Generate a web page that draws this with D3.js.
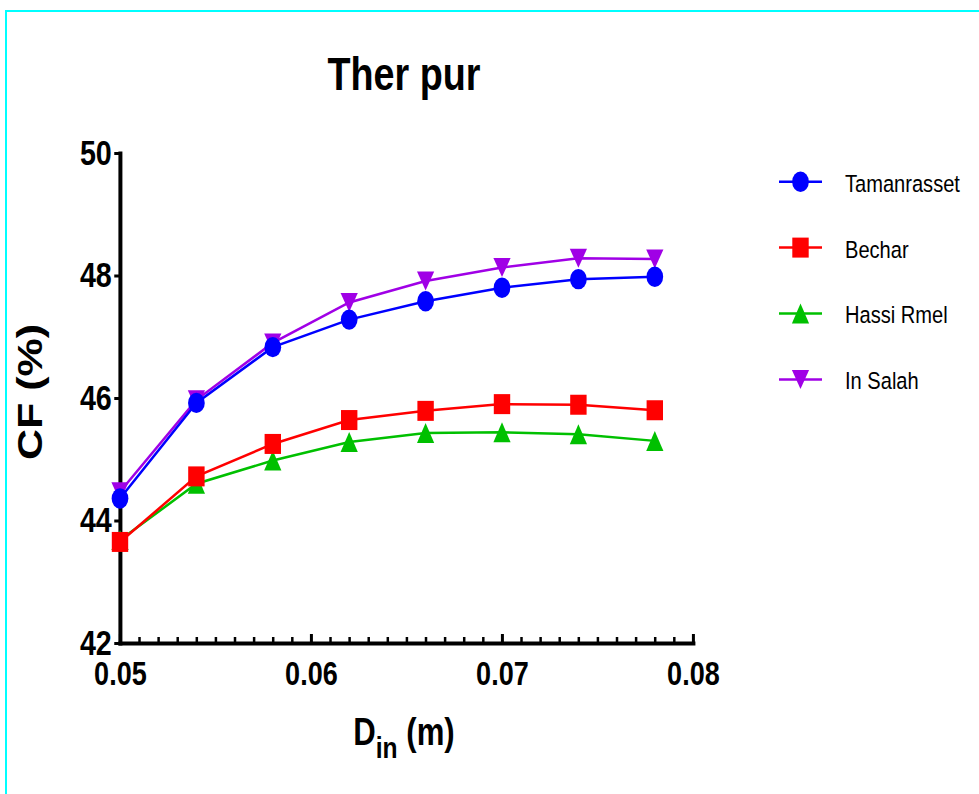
<!DOCTYPE html>
<html><head><meta charset="utf-8">
<script src="https://cdn.jsdelivr.net/npm/d3@7/dist/d3.min.js"></script>
<style>
body{margin:0;background:#fff}
svg{display:block}
text{font-family:"Liberation Sans",Arial,Helvetica,sans-serif}
</style>
</head><body>
<svg id="chart" width="979" height="794"></svg>
<script>
// ---- data ----
const xValues = [0.05, 0.054, 0.058, 0.062, 0.066, 0.07, 0.074, 0.078];
const tamanrasset = [44.36, 45.92, 46.83, 47.28, 47.58, 47.80, 47.94, 47.98];
const bechar      = [43.65, 44.72, 45.25, 45.64, 45.79, 45.90, 45.89, 45.80];
const hassiRmel   = [43.68, 44.60, 44.98, 45.28, 45.43, 45.44, 45.41, 45.30];
const inSalah     = [44.47, 45.97, 46.90, 47.56, 47.91, 48.13, 48.28, 48.27];
const seriesNames = ["Tamanrasset", "Bechar", "Hassi Rmel", "In Salah"];
const xTicks = [0.05, 0.06, 0.07, 0.08];
const yTicks = [42, 44, 46, 48, 50];
const titleText = "Ther pur";

// ---- layout ----
const SX = 0.82; // horizontal squeeze of the original picture
const svg = d3.select("#chart");
svg.append("rect").attr("x", 6).attr("y", 11).attr("width", 1000).attr("height", 800)
  .attr("fill", "none").attr("stroke", "#00FFFF").attr("stroke-width", 2);

const g = svg.append("g").attr("transform", `scale(${SX},1)`);
const vx = v => v / SX;

const x = d3.scaleLinear().domain([0.05, 0.08]).range([vx(120), vx(693)]);
const y = d3.scaleLinear().domain([42, 50]).range([643, 153]);

const series = [
  {name: seriesNames[0], values: tamanrasset, color: "#0000FF", shape: "circle"},
  {name: seriesNames[1], values: bechar,      color: "#FF0000", shape: "square"},
  {name: seriesNames[2], values: hassiRmel,   color: "#00C000", shape: "up"},
  {name: seriesNames[3], values: inSalah,     color: "#A000E6", shape: "down"}
];

function marker(sel, shape, color) {
  if (shape === "circle") {
    sel.append("circle").attr("r", 10.2).attr("fill", color);
  } else if (shape === "square") {
    sel.append("rect").attr("x", -10).attr("y", -10).attr("width", 20).attr("height", 20).attr("fill", color);
  } else if (shape === "up") {
    sel.append("path").attr("d", "M0,-10L10.5,10L-10.5,10Z").attr("fill", color);
  } else {
    sel.append("path").attr("d", "M-10.5,-9.5L10.5,-9.5L0,9.5Z").attr("fill", color);
  }
}

// ---- axes ----
const yAxis = g.append("g").attr("transform", `translate(${x(0.05)},0)`)
  .call(d3.axisLeft(y).tickValues(yTicks).tickSize(7).tickSizeOuter(0).tickPadding(3).tickFormat(d3.format("d")));
yAxis.select(".domain").attr("stroke-width", 4).attr("stroke-linecap", "square").attr("vector-effect", "non-scaling-stroke");
yAxis.selectAll(".tick line").attr("stroke-width", 3).attr("vector-effect", "non-scaling-stroke");
yAxis.selectAll(".tick text").attr("font-size", 35).attr("font-weight", "bold").attr("fill", "#000");

const minor = d3.range(51, 80).filter(i => i % 10 !== 0).map(i => i / 1000);
const xMinor = g.append("g").attr("transform", `translate(0,${y(42)})`)
  .call(d3.axisBottom(x).tickValues(minor).tickSize(-6).tickSizeOuter(0).tickFormat(""));
xMinor.select(".domain").remove();
xMinor.selectAll(".tick line").attr("stroke-width", 2.5).attr("vector-effect", "non-scaling-stroke");

const xAxis = g.append("g").attr("transform", `translate(0,${y(42)})`)
  .call(d3.axisBottom(x).tickValues(xTicks).tickSize(-9).tickSizeOuter(0).tickPadding(19).tickFormat(d3.format(".2f")));
xAxis.select(".domain").attr("stroke-width", 4).attr("stroke-linecap", "square").attr("vector-effect", "non-scaling-stroke");
xAxis.selectAll(".tick line").attr("stroke-width", 3).attr("vector-effect", "non-scaling-stroke");
xAxis.selectAll(".tick text").attr("font-size", 33).attr("font-weight", "bold").attr("fill", "#000");

// ---- series ----
const line = d3.line().x(d => x(d[0])).y(d => y(d[1]));
series.slice().reverse().forEach(s => {
  const pts = xValues.map((xv, i) => [xv, s.values[i]]);
  g.append("path").datum(pts).attr("d", line).attr("fill", "none")
    .attr("stroke", s.color).attr("stroke-width", 2.5).attr("vector-effect", "non-scaling-stroke");
  pts.forEach(p => {
    const m = g.append("g").attr("transform", `translate(${x(p[0])},${y(p[1])})`);
    marker(m, s.shape, s.color);
  });
});

// ---- titles ----
g.append("text").attr("x", vx(404)).attr("y", 90).attr("text-anchor", "middle")
  .attr("font-size", 46).attr("font-weight", "bold").text(titleText);

g.append("text").attr("transform", `translate(${vx(42)},392) rotate(-90)`).attr("text-anchor", "middle")
  .attr("font-size", 43).attr("font-weight", "bold").text("CF (%)");

const xt = g.append("text").attr("x", vx(404)).attr("y", 745).attr("text-anchor", "middle")
  .attr("font-size", 38).attr("font-weight", "bold");
xt.append("tspan").text("D");
xt.append("tspan").attr("font-size", 30).attr("dy", 13).text("in");
xt.append("tspan").attr("dy", -13).text(" (m)");

// ---- legend ----
series.forEach((s, i) => {
  const ly = 181.7 + i * 65.9;
  const lg = g.append("g");
  lg.append("line").attr("x1", vx(779)).attr("x2", vx(822)).attr("y1", ly).attr("y2", ly)
    .attr("stroke", s.color).attr("stroke-width", 2.5).attr("vector-effect", "non-scaling-stroke");
  const m = lg.append("g").attr("transform", `translate(${vx(800.5)},${ly})`);
  marker(m, s.shape, s.color);
  lg.append("text").attr("x", vx(845)).attr("y", ly + 10).attr("font-size", 24.5).attr("fill", "#000").text(s.name);
});
</script>
</body></html>
